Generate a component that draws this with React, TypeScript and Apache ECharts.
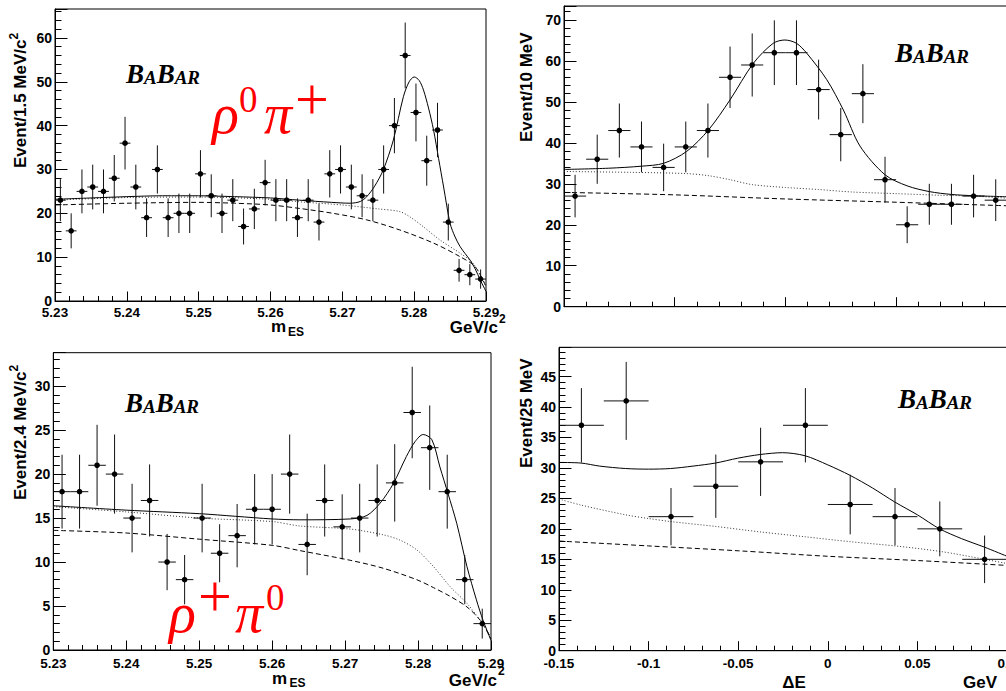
import React, { useEffect, useRef } from "react";
import * as echarts from "echarts";

const SANS = "'Liberation Sans', Arial, Helvetica, sans-serif";
const SERIF = "'Liberation Serif', 'Times New Roman', serif";

// ---------- top-left: mES, rho0 pi+ ----------
const tlStart = 5.23;
const tlBin = 0.0015;
const tlCounts = [23, 16, 25, 26, 25, 28, 36, 26, 19, 30, 19, 20, 20, 29, 24, 20, 23, 17, 21, 27, 23, 23, 19, 23, 18, 29, 30, 26, 24, 23, 30, 40, 56, 43, 32, 39, 18, 7, 6, 5];
const tlErrors = [4.8, 4.0, 5.0, 5.1, 5.0, 5.3, 6.0, 5.1, 4.4, 5.5, 4.4, 4.5, 4.5, 5.4, 4.9, 4.5, 4.8, 4.1, 4.6, 5.2, 4.8, 4.8, 4.4, 4.8, 4.2, 5.4, 5.5, 5.1, 4.9, 4.8, 5.5, 6.3, 7.5, 6.6, 5.7, 6.2, 4.2, 2.6, 2.4, 2.2];
const tlSolid = [[5.23, 23.2], [5.235, 23.5], [5.24, 23.8], [5.245, 24.0], [5.25, 24.0], [5.255, 23.8], [5.26, 23.5], [5.264, 23.0], [5.2685, 22.5], [5.2711, 22.3], [5.2725, 22.7], [5.2734, 23.8], [5.2745, 26.2], [5.2757, 29.9], [5.2771, 36.7], [5.2785, 46.6], [5.2793, 50.0], [5.28, 51.1], [5.2807, 50.3], [5.2813, 48.1], [5.282, 44.0], [5.2827, 39.0], [5.2834, 32.5], [5.2841, 26.0], [5.285, 17.7], [5.2857, 14.6], [5.2864, 12.4], [5.2871, 10.8], [5.2878, 9.3], [5.2885, 7.3], [5.2892, 4.8], [5.29, 2.2]];
const tlDotted = [[5.23, 23.0], [5.24, 23.6], [5.25, 23.7], [5.26, 23.2], [5.265, 22.5], [5.27, 21.9], [5.275, 21.0], [5.278, 20.4], [5.2794, 19.2], [5.2813, 16.9], [5.2836, 13.9], [5.2864, 10.9], [5.2882, 8.6], [5.29, 3.3]];
const tlDashed = [[5.23, 21.9], [5.24, 22.3], [5.25, 22.5], [5.255, 22.3], [5.26, 21.9], [5.2641, 21.1], [5.2687, 20.0], [5.2734, 18.5], [5.278, 16.2], [5.2827, 13.2], [5.2864, 10.1], [5.2885, 7.8], [5.29, 3.3]];

// ---------- top-right: Delta E, 10 MeV bins ----------
const trStart = -0.15;
const trBin = 0.01;
const trCounts = [27, 36, 43, 39, 34, 39, 43, 56, 59, 62, 62, 53, 42, 52, 31, 20, 25, 25, 27, 26];
const trErrors = [5.2, 6.0, 6.6, 6.2, 5.8, 6.2, 6.6, 7.5, 7.7, 7.9, 7.9, 7.3, 6.5, 7.2, 5.6, 4.5, 5.0, 5.0, 5.2, 5.1];
const trSolid = [[-0.15, 33.5], [-0.13, 33.8], [-0.115, 34.3], [-0.105, 35.0], [-0.0946, 37.9], [-0.0848, 43.1], [-0.075, 50.5], [-0.0645, 59.4], [-0.0555, 64.3], [-0.0502, 65.1], [-0.045, 64.3], [-0.0404, 61.9], [-0.0313, 55.4], [-0.0238, 48.0], [-0.0163, 39.2], [-0.005, 32.2], [0.005, 29.5], [0.015, 28.1], [0.025, 27.4], [0.035, 27.1], [0.052, 26.8]];
const trDotted = [[-0.15, 33.0], [-0.12, 32.8], [-0.095, 32.5], [-0.085, 32.0], [-0.075, 31.0], [-0.065, 29.8], [-0.05, 29.1], [-0.035, 28.6], [-0.02, 28.0], [0.0, 27.6], [0.02, 27.2], [0.035, 27.0], [0.052, 26.4]];
const trDashed = [[-0.15, 27.9], [-0.1, 27.3], [-0.05, 26.3], [0.0, 25.5], [0.052, 24.6]];

// ---------- bottom-left: mES, rho+ pi0 ----------
const blStart = 5.23;
const blBin = 0.0024;
const blCounts = [18, 18, 21, 20, 15, 17, 10, 8, 15, 11, 13, 16, 16, 20, 12, 17, 14, 15, 17, 19, 27, 23, 18, 8, 3];
const blErrors = [4.2, 4.2, 4.6, 4.5, 3.9, 4.1, 3.2, 2.8, 3.9, 3.3, 3.6, 4.0, 4.0, 4.5, 3.5, 4.1, 3.7, 3.9, 4.1, 4.4, 5.2, 4.8, 4.2, 2.8, 1.7];
const blSolid = [[5.23, 16.4], [5.24, 15.9], [5.25, 15.5], [5.255, 15.2], [5.26, 14.9], [5.2638, 14.8], [5.2707, 14.9], [5.273, 15.3], [5.2748, 16.7], [5.2766, 18.9], [5.2784, 22.0], [5.2796, 23.7], [5.2807, 24.5], [5.2819, 23.9], [5.283, 20.8], [5.2841, 17.8], [5.2853, 14.4], [5.2867, 9.5], [5.288, 5.7], [5.2889, 3.4], [5.29, 1.1]];
const blDotted = [[5.23, 16.3], [5.24, 15.7], [5.25, 15.0], [5.26, 14.6], [5.2638, 14.1], [5.2707, 13.75], [5.2752, 13.1], [5.2775, 12.5], [5.2798, 11.4], [5.2821, 9.5], [5.2844, 7.2], [5.2867, 5.3], [5.2885, 3.4], [5.29, 1.5]];
const blDashed = [[5.23, 13.6], [5.24, 13.3], [5.25, 12.6], [5.26, 11.9], [5.2638, 11.3], [5.2707, 10.2], [5.2752, 9.3], [5.2798, 8.0], [5.2821, 7.1], [5.2844, 6.1], [5.2867, 4.9], [5.2885, 3.4], [5.29, 1.3]];

// ---------- bottom-right: Delta E, 25 MeV bins ----------
const brStart = -0.15;
const brBin = 0.025;
const brCounts = [37, 41, 22, 27, 31, 37, 24, 22, 20, 15];
const brErrors = [6.1, 6.4, 4.7, 5.2, 5.6, 6.1, 4.9, 4.7, 4.5, 3.9];
const brSolid = [[-0.15, 30.9], [-0.1377, 30.8], [-0.1273, 30.3], [-0.1128, 29.9], [-0.1, 29.8], [-0.0878, 29.9], [-0.0752, 30.3], [-0.0627, 30.8], [-0.0502, 31.6], [-0.0378, 32.2], [-0.0253, 32.5], [-0.0127, 32.0], [0.0, 30.5], [0.0123, 28.8], [0.025, 26.7], [0.0374, 24.4], [0.05, 22.3], [0.0624, 20.0], [0.0746, 18.4], [0.0874, 17.0], [0.1, 15.5]];
const brDotted = [[-0.15, 24.9], [-0.1377, 23.9], [-0.1128, 22.3], [-0.1, 21.7], [-0.0878, 21.2], [-0.0627, 20.4], [-0.0378, 19.5], [-0.0127, 18.7], [0.0123, 17.9], [0.0375, 17.2], [0.0626, 16.3], [0.0877, 15.0], [0.1, 14.3]];
const brDashed = [[-0.15, 18.0], [-0.1, 17.2], [-0.05, 16.4], [0.0, 15.5], [0.05, 14.8], [0.1, 14.0]];

// tick label steps
const yStepTL = 10, yStepTR = 10, yStepBL = 5, yStepBR = 5;

function points(start: number, bin: number, counts: number[], errs: number[]) {
  return counts.map((c, i) => [start + (i + 0.5) * bin, c, bin / 2, errs[i]]);
}

const isMult = (v: number, s: number) => Math.abs(v / s - Math.round(v / s)) < 1e-6;

function yMain(grid: number, max: number, step: number) {
  return {
    type: "value", gridIndex: grid, position: "left", min: 0, max, interval: step,
    axisLine: { show: true, onZero: false, lineStyle: { color: "#000", width: 1 } },
    axisTick: { show: true, inside: true, length: 12.5, lineStyle: { color: "#000", width: 1 } },
    axisLabel: {
      show: true, margin: 3, fontSize: 14, fontFamily: SANS, fontWeight: "bold", color: "#000",
      formatter: (v: number) => (isMult(v, step) ? String(Math.round(v)) : ""),
    },
    splitLine: { show: false },
  };
}
function yMinor(grid: number, max: number, step: number) {
  return {
    type: "value", gridIndex: grid, position: "left", min: 0, max, interval: step,
    axisLine: { show: false, onZero: false },
    axisTick: { show: true, inside: true, length: 6.5, lineStyle: { color: "#000", width: 1 } },
    axisLabel: { show: false },
    splitLine: { show: false },
  };
}
function xAx(grid: number, min: number, max: number, step: number, show: boolean, fmt: (v: number) => string, margin: number) {
  return {
    type: "value", gridIndex: grid, position: "bottom", min, max, interval: step,
    axisLine: { show: true, onZero: false, lineStyle: { color: "#000", width: 1 } },
    axisTick: { show: true, inside: true, length: 9.5, lineStyle: { color: "#000", width: 1 } },
    minorTick: { show: true, splitNumber: 5, length: 5, lineStyle: { color: "#000", width: 1 } },
    axisLabel: { show, margin, fontSize: 13.5, fontFamily: SANS, fontWeight: "bold", color: "#000", formatter: fmt },
    splitLine: { show: false },
    minorSplitLine: { show: false },
  };
}

function errSeries(g: number, data: number[][]) {
  return {
    type: "custom", xAxisIndex: g, yAxisIndex: 2 * g, silent: true, z: 5,
    dimensions: ["x", "y", "ex", "ey"], encode: { x: 0, y: 1 },
    data,
    renderItem: (_p: any, api: any) => {
      const x = api.value(0), y = api.value(1), ex = api.value(2), ey = api.value(3);
      const c = api.coord([x, y]);
      const l = api.coord([x - ex, y]);
      const r = api.coord([x + ex, y]);
      const t = api.coord([x, y + ey]);
      const b = api.coord([x, y - ey]);
      const st = { stroke: "#111", lineWidth: 1 };
      return {
        type: "group",
        children: [
          { type: "line", shape: { x1: l[0], y1: c[1], x2: r[0], y2: c[1] }, style: st },
          { type: "line", shape: { x1: c[0], y1: t[1], x2: c[0], y2: b[1] }, style: st },
          { type: "circle", shape: { cx: c[0], cy: c[1], r: 2.8 }, style: { fill: "#000" } },
        ],
      };
    },
  };
}

function curve(g: number, data: number[][], type: any, color: string) {
  return {
    type: "line", xAxisIndex: g, yAxisIndex: 2 * g, data, showSymbol: false, symbol: "none",
    smooth: 0.3, silent: true, z: 3, lineStyle: { color, width: 1, type },
  };
}

function txt(x: number, y: number, text: string, size: number, align = "left", rot = 0, va = "middle") {
  return {
    type: "text", x, y, rotation: rot, silent: true,
    style: { text, fontSize: size, fontFamily: SANS, fontWeight: "bold", fill: "#000", align, verticalAlign: va, textAlign: align, textVerticalAlign: va },
  };
}
function red(x: number, y: number, text: string, size: number, italic: boolean, align = "left") {
  return {
    type: "text", x, y, silent: true,
    style: { text, fontSize: size, fontFamily: SERIF, fontStyle: italic ? "italic" : "normal", fill: "#ff0000", align, verticalAlign: "middle", textAlign: align, textVerticalAlign: "middle" },
  };
}
function babar(x: number, y: number) {
  const base = { fontFamily: SERIF, fontStyle: "italic", fontWeight: "bold", fill: "#000", verticalAlign: "bottom" };
  return {
    type: "text", x, y, silent: true,
    style: {
      text: "{b|B}{s|A}{b|B}{s|AR}", align: "left", verticalAlign: "bottom", textAlign: "left", textVerticalAlign: "bottom",
      rich: { b: { ...base, fontSize: 27, lineHeight: 27 }, s: { ...base, fontSize: 19, lineHeight: 21 } },
    },
  };
}

const R90 = Math.PI / 2;
const fmt2 = (v: number) => v.toFixed(2);
const fmtDE = (v: number) => String(parseFloat(v.toFixed(3)));

export default function App() {
  const ref = useRef<HTMLDivElement>(null);
  useEffect(() => {
    if (!ref.current) return;
    const chart = echarts.init(ref.current, null, { renderer: "svg" });
    const gridBase = { show: true, borderColor: "#000", borderWidth: 1, backgroundColor: "transparent", containLabel: false };
    chart.setOption({
      animation: false,
      backgroundColor: "#ffffff",
      grid: [
        { ...gridBase, left: 55, top: 9, width: 431, height: 292 },
        { ...gridBase, left: 564, top: 6, width: 553.5, height: 300.7 },
        { ...gridBase, left: 53.3, top: 352.7, width: 437.7, height: 297.3 },
        { ...gridBase, left: 559, top: 347.3, width: 537.6, height: 303.4 },
      ],
      xAxis: [
        xAx(0, 5.23, 5.29, 0.01, true, fmt2, 4),
        xAx(1, -0.15, 0.1, 0.05, false, fmtDE, 5),
        xAx(2, 5.23, 5.29, 0.01, true, fmt2, 6),
        xAx(3, -0.15, 0.15, 0.05, true, fmtDE, 6),
      ],
      yAxis: [
        yMain(0, 66.6, yStepTL), yMinor(0, 66.6, 2),
        yMain(1, 73.4, yStepTR), yMinor(1, 73.4, 2),
        yMain(2, 33.8, yStepBL), yMinor(2, 33.8, 1),
        yMain(3, 49.8, yStepBR), yMinor(3, 49.8, 1),
      ],
      series: [
        curve(0, tlDashed, [5, 3], "#000"), curve(0, tlDotted, [1, 2], "#333"), curve(0, tlSolid, "solid", "#000"),
        errSeries(0, points(tlStart, tlBin, tlCounts, tlErrors)),
        curve(1, trDashed, [5, 3], "#000"), curve(1, trDotted, [1, 2], "#333"), curve(1, trSolid, "solid", "#000"),
        errSeries(1, points(trStart, trBin, trCounts, trErrors)),
        curve(2, blDashed, [5, 3], "#000"), curve(2, blDotted, [1, 2], "#333"), curve(2, blSolid, "solid", "#000"),
        errSeries(2, points(blStart, blBin, blCounts, blErrors)),
        curve(3, brDashed, [5, 3], "#000"), curve(3, brDotted, [1, 2], "#333"), curve(3, brSolid, "solid", "#000"),
        errSeries(3, points(brStart, brBin, brCounts, brErrors)),
      ],
      graphic: {
        elements: [
          // y titles
          txt(20, 168, "Event/1.5 MeV/c", 17, "left", R90),
          txt(14, 39.5, "2", 12, "left", R90),
          txt(526.5, 142, "Event/10 MeV", 17, "left", R90),
          txt(20, 500, "Event/2.4 MeV/c", 17, "left", R90),
          txt(14, 371.5, "2", 12, "left", R90),
          txt(526, 468, "Event/25 MeV", 17, "left", R90),
          // x titles
          txt(271, 326, "m", 17),
          txt(288, 332, "ES", 12),
          txt(498, 327, "GeV/c", 17, "right"),
          txt(499, 318.5, "2", 12),
          txt(272, 678, "m", 17),
          txt(289.5, 683, "ES", 12),
          txt(497, 680, "GeV/c", 17, "right"),
          txt(498, 671, "2", 12),
          txt(794, 682, "ΔE", 17, "center"),
          txt(997, 682.5, "GeV", 17, "right"),
          // logos
          babar(126, 87),
          babar(895, 66),
          babar(125, 416),
          babar(898, 412),
          // channel labels
          red(212, 114.1, "ρ", 56, true),
          red(239, 99.5, "0", 37, false),
          red(264, 114.1, "π", 56, true),
          red(312, 98.75, "+", 60, false, "center"),
          red(169, 613.1, "ρ", 56, true),
          red(215, 596.25, "+", 60, false, "center"),
          red(235, 613.1, "π", 56, true),
          red(266, 597.5, "0", 37, false),
        ],
      },
    });
    return () => chart.dispose();
  }, []);
  return (
    <div style={{ position: "fixed", left: 0, top: 0, width: 1006, height: 691, overflow: "hidden", background: "#fff" }}>
      <div ref={ref} style={{ width: 1120, height: 691 }} />
    </div>
  );
}
